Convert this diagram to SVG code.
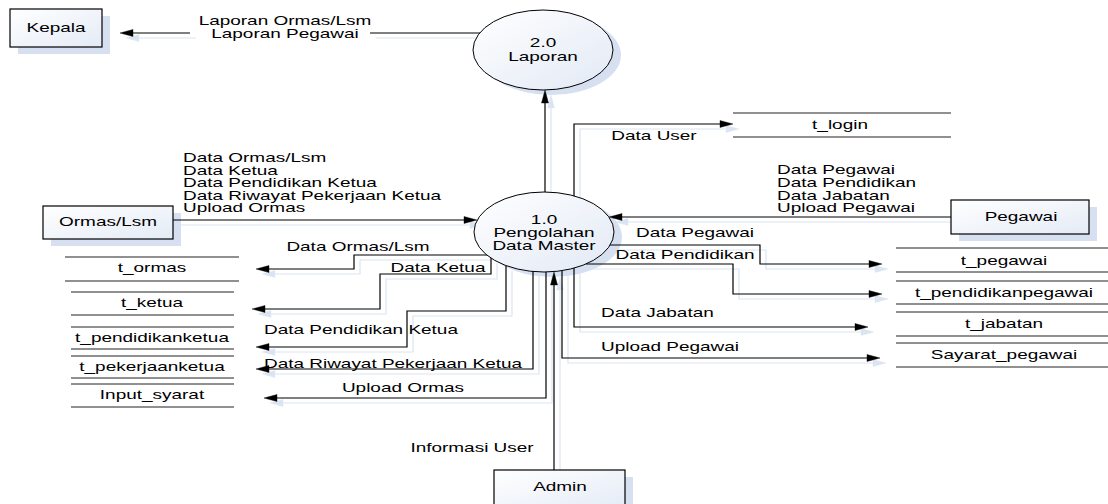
<svg xmlns="http://www.w3.org/2000/svg" xmlns:xlink="http://www.w3.org/1999/xlink" width="1108" height="504" viewBox="0 0 1108 504">
<style>
text{font-family:"Liberation Sans",Arial,sans-serif;font-size:12px;fill:#000}
.m{text-anchor:middle}
.ln{fill:none;stroke-width:1.2}
.ah{stroke-width:0.4}
.box{fill:url(#boxg);stroke:#000;stroke-width:1.2}
.proc{fill:url(#circg);stroke:#000;stroke-width:1}
.shd{fill:#d6e0f1;stroke:none}
.st{stroke:#222;stroke-width:1.1}
</style>
<defs>
<linearGradient id="boxg" x1="0" y1="0" x2="1" y2="1">
<stop offset="0" stop-color="#ffffff"/><stop offset="1" stop-color="#e4ebf6"/>
</linearGradient>
<linearGradient id="circg" x1="0" y1="0" x2="1" y2="1">
<stop offset="0" stop-color="#ffffff"/><stop offset="1" stop-color="#e2e9f5"/>
</linearGradient>
</defs>
<rect width="1108" height="504" fill="#fff"/>

<g id="connector-shadows" transform="translate(6,5)" stroke="#dbe4f2" fill="#dbe4f2">
<use xlink:href="#flow-lines" href="#flow-lines"/>
</g>

<g id="kepala">
<rect class="shd" x="18" y="16" width="92" height="38"/>
<rect class="box" x="10" y="9" width="92" height="38"/>
<text class="m" transform="matrix(1.58 0 0 1 56 32)">Kepala</text>
</g>
<g id="p2">
<ellipse class="shd" cx="551" cy="55" rx="70" ry="40"/>
<ellipse class="proc" cx="543" cy="50" rx="70" ry="40"/>
<text class="m" transform="matrix(1.58 0 0 1 543 47)">2.0</text>
<text class="m" transform="matrix(1.58 0 0 1 543 61)">Laporan</text>
</g>
<g id="p1">
<ellipse class="shd" cx="552" cy="237" rx="70" ry="40"/>
<ellipse class="proc" cx="544" cy="232" rx="70" ry="40"/>
<text class="m" transform="matrix(1.58 0 0 1 544 224)">1.0</text>
<text class="m" transform="matrix(1.58 0 0 1 544 237)">Pengolahan</text>
<text class="m" transform="matrix(1.58 0 0 1 544 250)">Data Master</text>
</g>
<g id="ormas">
<rect class="shd" x="51" y="213" width="130" height="33"/>
<rect class="box" x="43" y="206" width="130" height="33"/>
<text class="m" transform="matrix(1.58 0 0 1 108 226)">Ormas/Lsm</text>
</g>
<g id="pegawai">
<rect class="shd" x="959" y="207" width="138" height="34"/>
<rect class="box" x="951" y="200" width="138" height="34"/>
<text class="m" transform="matrix(1.58 0 0 1 1021 221)">Pegawai</text>
</g>
<g id="admin">
<rect class="shd" x="502" y="477" width="131" height="40"/>
<rect class="box" x="494" y="470" width="131" height="40"/>
<text class="m" transform="matrix(1.58 0 0 1 560 491)">Admin</text>
</g>

<g id="t_login"><path class="st" d="M733,113H951M733,137H951"/><text class="m" transform="matrix(1.58 0 0 1 840 129)">t_login</text></g>
<g id="t_pegawai"><path class="st" d="M896,248H1108M896,272H1108"/><text class="m" transform="matrix(1.58 0 0 1 1004 265)">t_pegawai</text></g>
<g id="t_pendidikanpegawai"><path class="st" d="M896,281H1108M896,304H1108"/><text class="m" transform="matrix(1.58 0 0 1 1004 297)">t_pendidikanpegawai</text></g>
<g id="t_jabatan"><path class="st" d="M896,312H1108M896,336H1108"/><text class="m" transform="matrix(1.58 0 0 1 1004 328)">t_jabatan</text></g>
<g id="sayarat_pegawai"><path class="st" d="M896,343H1108M896,367H1108"/><text class="m" transform="matrix(1.58 0 0 1 1004 359)">Sayarat_pegawai</text></g>
<g id="t_ormas"><path class="st" d="M65,257H239M65,281H239"/><text class="m" transform="matrix(1.58 0 0 1 152 272)">t_ormas</text></g>
<g id="t_ketua"><path class="st" d="M71,292H234M71,315H234"/><text class="m" transform="matrix(1.58 0 0 1 152 307)">t_ketua</text></g>
<g id="t_pendidikanketua"><path class="st" d="M71,327H234M71,349H234"/><text class="m" transform="matrix(1.58 0 0 1 152 342)">t_pendidikanketua</text></g>
<g id="t_pekerjaanketua"><path class="st" d="M71,356H234M71,378H234"/><text class="m" transform="matrix(1.58 0 0 1 152 371)">t_pekerjaanketua</text></g>
<g id="input_syarat"><path class="st" d="M71,384H234M71,407H234"/><text class="m" transform="matrix(1.58 0 0 1 152 399)">Input_syarat</text></g>

<g id="connectors" stroke="#000" fill="#000">
<g id="flow-lines">
<path class="ln" d="M480,33H370M190,33H125"/>
<polygon class="ah" points="120,33 133,29.5 133,36.5"/>
<path class="ln" d="M545,192V95"/>
<polygon class="ah" points="545,90 541.5,103 548.5,103"/>
<path class="ln" d="M574,196V124H728"/>
<polygon class="ah" points="733,124 720,120.5 720,127.5"/>
<path class="ln" d="M951,217H614"/>
<polygon class="ah" points="609,217 622,213.5 622,220.5"/>
<path class="ln" d="M173,220H472"/>
<polygon class="ah" points="477,220 464,216.5 464,223.5"/>
<path class="ln" d="M610,245H760V264H877"/>
<polygon class="ah" points="882,264 869,260.5 869,267.5"/>
<path class="ln" d="M586,264H733V294H877"/>
<polygon class="ah" points="882,294 869,290.5 869,297.5"/>
<path class="ln" d="M574,268V327H863"/>
<polygon class="ah" points="868,327 855,323.5 855,330.5"/>
<path class="ln" d="M562,271V358H875"/>
<polygon class="ah" points="880,358 867,354.5 867,361.5"/>
<path class="ln" d="M487,255H354V269H261"/>
<polygon class="ah" points="256,269 269,265.5 269,272.5"/>
<path class="ln" d="M491,258V274H380V309H257"/>
<polygon class="ah" points="252,309 265,305.5 265,312.5"/>
<path class="ln" d="M506,266V311H407V347H261"/>
<polygon class="ah" points="256,347 269,343.5 269,350.5"/>
<path class="ln" d="M533,271V369H261"/>
<polygon class="ah" points="256,369 269,365.5 269,372.5"/>
<path class="ln" d="M546,272V398H269"/>
<polygon class="ah" points="264,398 277,394.5 277,401.5"/>
<path class="ln" d="M554,470V277"/>
<polygon class="ah" points="554,272 550.5,285 557.5,285"/>
</g>
</g>

<g id="labels">
<text class="m" transform="matrix(1.58 0 0 1 285 24.5)">Laporan Ormas/Lsm</text>
<text class="m" transform="matrix(1.58 0 0 1 285 37.5)">Laporan Pegawai</text>
<text transform="matrix(1.58 0 0 1 183 162)">Data Ormas/Lsm</text>
<text transform="matrix(1.58 0 0 1 183 174.5)">Data Ketua</text>
<text transform="matrix(1.58 0 0 1 183 187)">Data Pendidikan Ketua</text>
<text transform="matrix(1.58 0 0 1 183 199.5)">Data Riwayat Pekerjaan Ketua</text>
<text transform="matrix(1.58 0 0 1 183 212)">Upload Ormas</text>
<text class="m" transform="matrix(1.58 0 0 1 654 140)">Data User</text>
<text transform="matrix(1.58 0 0 1 777 174)">Data Pegawai</text>
<text transform="matrix(1.58 0 0 1 777 187)">Data Pendidikan</text>
<text transform="matrix(1.58 0 0 1 777 199.5)">Data Jabatan</text>
<text transform="matrix(1.58 0 0 1 777 212)">Upload Pegawai</text>
<text class="m" transform="matrix(1.58 0 0 1 695 237)">Data Pegawai</text>
<text class="m" transform="matrix(1.58 0 0 1 685 259)">Data Pendidikan</text>
<text transform="matrix(1.58 0 0 1 601 317)">Data Jabatan</text>
<text transform="matrix(1.58 0 0 1 601 351)">Upload Pegawai</text>
<text class="m" transform="matrix(1.58 0 0 1 358 251)">Data Ormas/Lsm</text>
<text class="m" transform="matrix(1.58 0 0 1 438 272)">Data Ketua</text>
<text class="m" transform="matrix(1.58 0 0 1 361 334)">Data Pendidikan Ketua</text>
<text class="m" transform="matrix(1.58 0 0 1 393 368)">Data Riwayat Pekerjaan Ketua</text>
<text class="m" transform="matrix(1.58 0 0 1 403 392)">Upload Ormas</text>
<text class="m" transform="matrix(1.58 0 0 1 472 452)">Informasi User</text>
</g>
</svg>
